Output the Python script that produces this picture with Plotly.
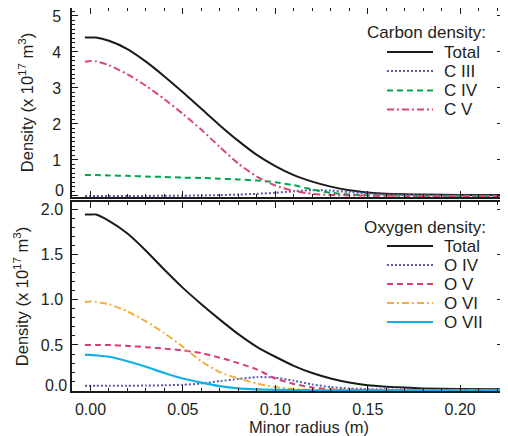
import plotly.graph_objects as go
from plotly.subplots import make_subplots

# ---------------- data ----------------
radius = [-0.003, 0.0, 0.003, 0.01, 0.02, 0.03, 0.04, 0.05, 0.06, 0.07, 0.08, 0.09,
          0.10, 0.11, 0.12, 0.13, 0.14, 0.15, 0.16, 0.17, 0.18, 0.20, 0.225]

c_total = [4.40, 4.40, 4.40, 4.31, 4.08, 3.73, 3.32, 2.88, 2.42, 1.96, 1.53, 1.14,
           0.83, 0.58, 0.40, 0.26, 0.16, 0.10, 0.065, 0.05, 0.04, 0.03, 0.03]
c_iii = [0.0, 0.0, 0.0, 0.0, 0.0, 0.002, 0.005, 0.008, 0.015, 0.025, 0.04, 0.06,
         0.09, 0.13, 0.16, 0.15, 0.11, 0.07, 0.04, 0.03, 0.02, 0.01, 0.005]
c_iv = [0.58, 0.58, 0.58, 0.57, 0.56, 0.54, 0.53, 0.51, 0.50, 0.48, 0.46, 0.43,
        0.38, 0.30, 0.18, 0.09, 0.04, 0.02, 0.012, 0.01, 0.008, 0.005, 0.004]
c_v = [3.73, 3.75, 3.74, 3.63, 3.38, 3.06, 2.69, 2.28, 1.84, 1.36, 0.90, 0.54,
       0.29, 0.14, 0.06, 0.03, 0.015, 0.01, 0.005, 0.003, 0.002, 0.001, 0.0]

o_total = [1.94, 1.94, 1.94, 1.87, 1.73, 1.54, 1.33, 1.13, 0.95, 0.78, 0.62, 0.48,
           0.37, 0.27, 0.19, 0.13, 0.085, 0.055, 0.04, 0.03, 0.02, 0.015, 0.01]
o_iv = [0.05, 0.05, 0.05, 0.05, 0.05, 0.052, 0.055, 0.06, 0.075, 0.10, 0.125, 0.145,
        0.14, 0.105, 0.065, 0.035, 0.02, 0.014, 0.01, 0.008, 0.006, 0.005, 0.004]
o_v = [0.50, 0.50, 0.50, 0.50, 0.49, 0.475, 0.46, 0.44, 0.41, 0.36, 0.30, 0.23,
       0.13, 0.07, 0.03, 0.01, 0.005, 0.003, 0.002, 0.001, 0.0, 0.0, 0.0]
o_vi = [0.975, 0.98, 0.975, 0.95, 0.87, 0.76, 0.63, 0.48, 0.32, 0.20, 0.13, 0.075,
        0.035, 0.015, 0.005, 0.002, 0.0, 0.0, 0.0, 0.0, 0.0, 0.0, 0.0]
o_vii = [0.39, 0.39, 0.385, 0.37, 0.32, 0.26, 0.19, 0.13, 0.085, 0.045, 0.02, 0.01,
         0.005, 0.002, 0.0, 0.0, 0.0, 0.0, 0.0, 0.0, 0.0, 0.0, 0.0]

carbon_names = ["Total", "C III", "C IV", "C V"]
oxygen_names = ["Total", "O IV", "O V", "O VI", "O VII"]
x_ticks = [0.0, 0.05, 0.10, 0.15, 0.20]
c_ticks = [0, 1, 2, 3, 4, 5]
c_ticklabels = ["0", "1", "2", "3", "4", "5"]
o_ticks = [0.0, 0.5, 1.0, 1.5, 2.0]
o_ticklabels = ["0.0", "0.5", "1.0", "1.5", "2.0"]

# ---------------- styles ----------------
FONT = "Liberation Sans, Arial, sans-serif"
TXT = "#231f20"
DOT = "2px,2px"
DASH = "6px,4px"
DASHDOT = "7px,3px,2px,3px"

carbon_styles = [
    ("#1a1a1a", "solid"),
    ("#5c5ca8", DOT),
    ("#00a550", DASH),
    ("#d84870", DASHDOT),
]
oxygen_styles = [
    ("#1a1a1a", "solid"),
    ("#5c5ca8", DOT),
    ("#d93d78", DASH),
    ("#f0b040", DASHDOT),
    ("#10b0e8", "solid"),
]

fig = make_subplots(rows=2, cols=1, shared_xaxes=False, vertical_spacing=0.0)

for name, ys, (col, dash) in zip(carbon_names, [c_total, c_iii, c_iv, c_v], carbon_styles):
    fig.add_trace(go.Scatter(x=radius, y=ys, name=name, mode="lines",
                             line=dict(color=col, dash=dash, width=2, shape="spline", smoothing=0.6),
                             showlegend=False), row=1, col=1)

for name, ys, (col, dash) in zip(oxygen_names, [o_total, o_iv, o_v, o_vi, o_vii], oxygen_styles):
    fig.add_trace(go.Scatter(x=radius, y=ys, name=name, mode="lines",
                             line=dict(color=col, dash=dash, width=2.2 if name == "O VII" else 2,
                                       shape="spline", smoothing=0.6),
                             showlegend=False), row=2, col=1)

# ---------------- layout ----------------
# page has an 8px body margin, so the figure is 8px smaller and all page
# positions below are converted with that offset.
OFF = 8
W, H = 500, 428
ML, MR, MT, MB = 64, 5, 0, 45
PH = H - MT - MB
PW = W - ML - MR


def py2paper(py):
    return (H - MB - (py - OFF)) / PH


def px2paper(px):
    return (px - OFF - ML) / PW


axis_common = dict(
    showline=True, linecolor="#1a1a1a", linewidth=1.5, mirror="ticks",
    ticks="inside", ticklen=6, tickwidth=1.2, tickcolor="#1a1a1a",
    showgrid=False, zeroline=False,
    tickfont=dict(family=FONT, size=16, color=TXT),
)

TITLE_FONT = dict(family=FONT, size=16.5, color=TXT)
TICK_FONT = dict(family=FONT, size=16, color=TXT)

xrange_ = [-0.010, 0.2232]
fig.update_xaxes(**axis_common, range=xrange_, tickvals=x_ticks,
                 minor=dict(dtick=0.01, ticks="inside", ticklen=3, tickcolor="#1a1a1a", tickwidth=1))
fig.update_xaxes(showticklabels=False, row=1, col=1)
fig.update_xaxes(tickformat=".2f", ticklabelstandoff=3, row=2, col=1)

fig.update_yaxes(**axis_common, ticklabeloverflow="allow")
# the zero labels are drawn slightly raised (as in the original figure) below
fig.update_yaxes(range=[-0.028, 5.22], tickvals=c_ticks, ticktext=[""] + c_ticklabels[1:],
                 minor=dict(dtick=0.125, ticks="inside", ticklen=3, tickcolor="#1a1a1a", tickwidth=1),
                 domain=[py2paper(197), 1.0], ticklabelstandoff=6,
                 title=dict(text="Density (x 10<sup>17</sup> m<sup>3</sup>)",
                            font=TITLE_FONT, standoff=14),
                 row=1, col=1)
fig.update_yaxes(range=[-0.008, 2.078], tickvals=o_ticks, ticktext=[""] + o_ticklabels[1:],
                 minor=dict(dtick=0.1, ticks="inside", ticklen=3, tickcolor="#1a1a1a", tickwidth=1),
                 domain=[0.0, py2paper(202)], ticklabelstandoff=4,
                 title=dict(text="Density (x 10<sup>17</sup> m<sup>3</sup>)",
                            font=TITLE_FONT, standoff=8),
                 row=2, col=1)

annotations = []
shapes = []

# raised zero labels
annotations.append(dict(text=c_ticklabels[0], x=0, y=c_ticks[0], xref="paper", yref="y",
                        xanchor="right", yanchor="middle", xshift=-6, yshift=5,
                        showarrow=False, font=TICK_FONT))
annotations.append(dict(text=o_ticklabels[0], x=0, y=o_ticks[0], xref="paper", yref="y2",
                        xanchor="right", yanchor="middle", xshift=-3, yshift=5,
                        showarrow=False, font=TICK_FONT))

# x axis title
annotations.append(dict(text="Minor radius (m)", x=px2paper(308.5), y=py2paper(426.5),
                        xref="paper", yref="paper", showarrow=False, xanchor="center", yanchor="middle",
                        font=TITLE_FONT))

LEG_FONT = dict(family=FONT, size=17, color=TXT)


def add_legend(title, names, styles, title_py, row_pys):
    annotations.append(dict(text=title, x=px2paper(488), y=py2paper(title_py),
                            xref="paper", yref="paper", showarrow=False,
                            xanchor="right", yanchor="middle", font=LEG_FONT))
    for name, (col, dash), rpy in zip(names, styles, row_pys):
        yy = py2paper(rpy)
        shapes.append(dict(type="line", xref="paper", yref="paper",
                           x0=px2paper(387), x1=px2paper(433), y0=yy, y1=yy,
                           line=dict(color=col, dash=dash, width=2.2)))
        annotations.append(dict(text=name, x=px2paper(442), y=yy,
                                xref="paper", yref="paper", showarrow=False,
                                xanchor="left", yanchor="middle", font=LEG_FONT))


add_legend("Carbon density:", carbon_names, carbon_styles, 33, [52, 71, 90.5, 109.5])
add_legend("Oxygen density:", oxygen_names, oxygen_styles, 227, [246, 265, 284, 303, 322])

fig.update_layout(
    width=W, height=H,
    margin=dict(l=ML, r=MR, t=MT, b=MB, autoexpand=False),
    paper_bgcolor="white", plot_bgcolor="white",
    font=dict(family=FONT, size=16, color=TXT),
    showlegend=False,
    annotations=annotations,
    shapes=shapes,
)

fig.write_html("out.html")
